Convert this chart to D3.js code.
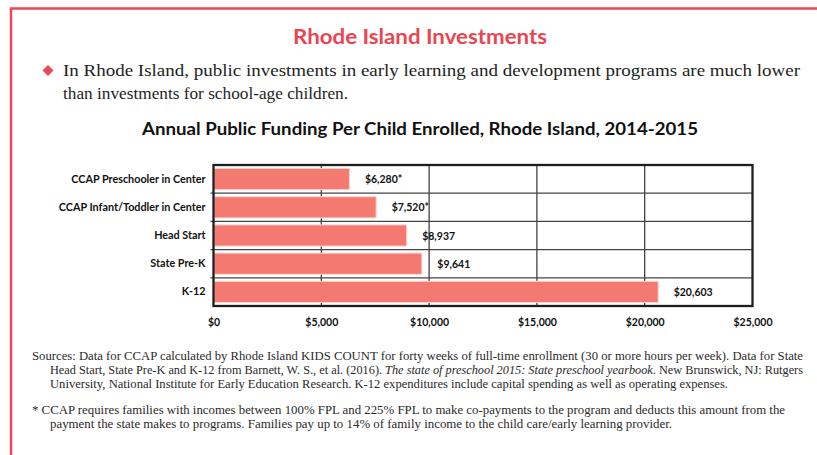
<!DOCTYPE html>
<html>
<head>
<meta charset="utf-8">
<script src="https://cdn.jsdelivr.net/npm/d3@7"></script>
<style>
  body { margin: 0; background: #fff; }
  svg { display: block; }
</style>
</head>
<body>
<div id="chart"></div>
<script>
const categories = ["CCAP Preschooler in Center", "CCAP Infant/Toddler in Center", "Head Start", "State Pre-K", "K-12"];
const values = [6280, 7520, 8937, 9641, 20603];
const valueLabels = ["$6,280*", "$7,520*", "$8,937", "$9,641", "$20,603"];
const xTicks = [0, 5000, 10000, 15000, 20000, 25000];

const heading = "Rhode Island Investments";
const bulletLines = [
    "In Rhode Island, public investments in early learning and development programs are much lower",
    "than investments for school-age children."
];
const chartTitle = "Annual Public Funding Per Child Enrolled, Rhode Island, 2014-2015";

const width = 817, height = 455;
const red = "#ee4656";
const barColor = "#f47970";

const svg = d3.select("#chart")
    .append("svg")
    .attr("width", width)
    .attr("height", height);

// red frame, open to the right and bottom
svg.append("path")
    .attr("d", "M11,460 L11,8.5 L830,8.5")
    .attr("fill", "none")
    .attr("stroke", red)
    .attr("stroke-width", 2.5);

// heading
svg.append("text")
    .attr("x", 420)
    .attr("y", 44)
    .attr("text-anchor", "middle")
    .style("font-family", "Lato")
    .style("font-weight", "bold")
    .style("font-size", "20px")
    .attr("textLength", 254)
    .attr("lengthAdjust", "spacingAndGlyphs")
    .attr("fill", "#ea4552")
    .text(heading);

// bullet
svg.append("path")
    .attr("d", "M48,65 L53.5,70.5 L48,76 L42.5,70.5 Z")
    .attr("fill", red);

const bulletWidths = [737, 285];
svg.selectAll(".bullet")
    .data(bulletLines)
    .join("text")
    .attr("x", 63)
    .attr("y", (d, i) => 76 + i * 23)
    .attr("textLength", (d, i) => bulletWidths[i])
    .attr("lengthAdjust", "spacingAndGlyphs")
    .style("font-family", "Liberation Serif")
    .style("font-size", "17.5px")
    .attr("fill", "#1e1e1e")
    .text(d => d);

// chart title
svg.append("text")
    .attr("x", 420)
    .attr("y", 135)
    .attr("text-anchor", "middle")
    .attr("textLength", 556)
    .attr("lengthAdjust", "spacingAndGlyphs")
    .style("font-family", "Lato")
    .style("font-weight", "bold")
    .style("font-size", "16.5px")
    .attr("fill", "#111")
    .text(chartTitle);

// scales
const x = d3.scaleLinear()
    .domain([0, 25000])
    .range([213.5, 752.5]);

const y = d3.scaleBand()
    .domain(categories)
    .range([165, 306])
    .paddingInner(0.25)
    .paddingOuter(0.125);

const gap = (y.step() - y.bandwidth()) / 2;
const plot = svg.append("g");

// vertical gridlines
plot.selectAll(".vgrid")
    .data(xTicks.slice(1, -1))
    .join("line")
    .attr("x1", d => x(d))
    .attr("x2", d => x(d))
    .attr("y1", 165)
    .attr("y2", 306)
    .attr("stroke", "#333")
    .attr("stroke-width", 1.2);

// row separators
plot.selectAll(".hgrid")
    .data(categories.slice(1))
    .join("line")
    .attr("x1", x(0) - 3)
    .attr("x2", x(25000))
    .attr("y1", d => y(d) - gap)
    .attr("y2", d => y(d) - gap)
    .attr("stroke", "#444")
    .attr("stroke-width", 1.2);

// bars
plot.selectAll(".bar")
    .data(values)
    .join("rect")
    .attr("x", x(0) + 0.5)
    .attr("y", (d, i) => y(categories[i]))
    .attr("width", d => x(d) - x(0))
    .attr("height", y.bandwidth())
    .attr("fill", barColor)
    .attr("stroke", "#fbd3cf")
    .attr("stroke-width", 1);

// plot frame
plot.append("rect")
    .attr("x", x(0))
    .attr("y", 165)
    .attr("width", x(25000) - x(0))
    .attr("height", 141)
    .attr("fill", "none")
    .attr("stroke", "#1e1e1e")
    .attr("stroke-width", 2.3);

// value labels
plot.selectAll(".val")
    .data(valueLabels)
    .join("text")
    .attr("x", (d, i) => x(values[i]) + 16)
    .attr("y", (d, i) => y(categories[i]) + y.bandwidth() / 2 + 4)
    .style("font-family", "Lato")
    .style("font-weight", "bold")
    .style("font-size", "10.5px")
    .attr("fill", "#111")
    .text(d => d);

// category axis
const yAxis = svg.append("g")
    .attr("transform", `translate(${x(0)},0)`)
    .call(d3.axisLeft(y).tickSize(0).tickPadding(8));
yAxis.select(".domain").remove();
yAxis.selectAll("text")
    .style("font-family", "Lato")
    .style("font-weight", "bold")
    .style("font-size", "10.8px")
    .attr("fill", "#111");

// value axis
const xAxis = svg.append("g")
    .attr("transform", "translate(0,306)")
    .call(d3.axisBottom(x).tickValues(xTicks).tickSize(0).tickPadding(13)
        .tickFormat(d => "$" + d3.format(",")(d)));
xAxis.select(".domain").remove();
xAxis.selectAll("text")
    .style("font-family", "Lato")
    .style("font-weight", "bold")
    .style("font-size", "10.5px")
    .attr("fill", "#111");

// notes
const notes = [
    { x: 32, y: 360, w: 771, t: "Sources: Data for CCAP calculated by Rhode Island KIDS COUNT for forty weeks of full-time enrollment (30 or more hours per week). Data for State" },
    { x: 50, y: 374, w: 753, t: null },
    { x: 50, y: 388, w: 678, t: "University, National Institute for Early Education Research. K-12 expenditures include capital spending as well as operating expenses." },
    { x: 32, y: 414, w: 753, t: "* CCAP requires families with incomes between 100% FPL and 225% FPL to make co-payments to the program and deducts this amount from the" },
    { x: 50, y: 428, w: 622, t: "payment the state makes to programs. Families pay up to 14% of family income to the child care/early learning provider." }
];

const noteG = svg.append("g")
    .style("font-family", "Liberation Serif")
    .style("font-size", "11.5px")
    .attr("fill", "#2a2a2a");

notes.forEach(n => {
    const t = noteG.append("text")
        .attr("x", n.x)
        .attr("y", n.y)
        .attr("textLength", n.w)
        .attr("lengthAdjust", "spacingAndGlyphs");
    if (n.t) {
        t.text(n.t);
    } else {
        t.append("tspan").text("Head Start, State Pre-K and K-12 from Barnett, W. S., et al. (2016). ");
        t.append("tspan").style("font-style", "italic").text("The state of preschool 2015: State preschool yearbook");
        t.append("tspan").text(". New Brunswick, NJ: Rutgers");
    }
});
</script>
</body>
</html>
